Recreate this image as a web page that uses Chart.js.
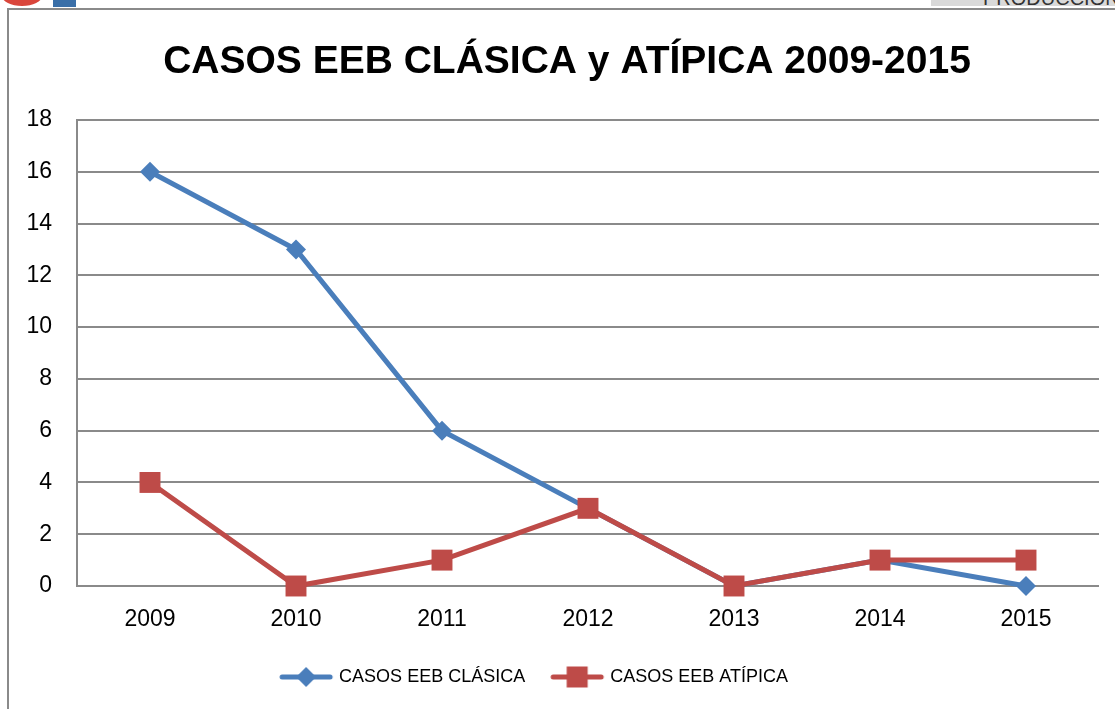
<!DOCTYPE html>
<html>
<head>
<meta charset="utf-8">
<script src="https://cdn.jsdelivr.net/npm/chart.js@4.4.1/dist/chart.umd.min.js"></script>
<style>
  body { margin: 0; background: #fff; }
  #wrap { position: relative; width: 1115px; height: 709px; overflow: hidden; }
  #frame { position: absolute; left: 7px; top: 8px; right: -4px; bottom: -4px;
           border-left: 2px solid #8a8a8a; border-top: 2px solid #8a8a8a; }
  #tag { position: absolute; left: 931px; top: 0; width: 184px; height: 6px;
         background: #d9d9d9; overflow: hidden; }
  #tag span { position: absolute; left: 52px; top: -13px; font: 20px "Liberation Sans", sans-serif;
              color: #333; white-space: nowrap; }
  #logo1 { position: absolute; left: 2px; top: -14px; width: 40px; height: 20px;
           border-radius: 50%; background: #d9463c; }
  #logo2 { position: absolute; left: 53px; top: 0; width: 23px; height: 7px; background: #3a6fa8; }
  canvas { position: absolute; left: 0; top: 0; }
</style>
</head>
<body>
<div id="wrap">
  <canvas id="chart" width="1115" height="709"></canvas>
  <div id="logo1"></div>
  <div id="logo2"></div>
  <div id="tag"><span>PRODUCCIÓN</span></div>
  <div id="frame"></div>
</div>
<script>
  const years = ['2009', '2010', '2011', '2012', '2013', '2014', '2015'];
  const casosClasica = [16, 13, 6, 3, 0, 1, 0];
  const casosAtipica = [4, 0, 1, 3, 0, 1, 1];
  const seriesNames = ['CASOS EEB CLÁSICA', 'CASOS EEB ATÍPICA'];

  const blue = '#4a7ebb';
  const red = '#be4b48';

  // little line + marker picture for the legend, like Excel does it
  function legendIcon(color, shape) {
    const c = document.createElement('canvas');
    c.width = 56;
    c.height = 24;
    const ctx = c.getContext('2d');
    ctx.strokeStyle = color;
    ctx.fillStyle = color;
    ctx.lineWidth = 5;
    ctx.lineCap = 'round';
    ctx.beginPath();
    ctx.moveTo(4, 12);
    ctx.lineTo(52, 12);
    ctx.stroke();
    ctx.beginPath();
    if (shape === 'diamond') {
      ctx.moveTo(28, 2);
      ctx.lineTo(38, 12);
      ctx.lineTo(28, 22);
      ctx.lineTo(18, 12);
      ctx.closePath();
    } else {
      ctx.rect(17.5, 1.5, 21, 21);
    }
    ctx.fill();
    return c;
  }

  const icons = [legendIcon(blue, 'diamond'), legendIcon(red, 'square')];

  // the legend in the original sits a bit left of the middle
  const legendShift = {
    id: 'legendShift',
    afterLayout: function(chart) {
      chart.legend.left -= 32;
      chart.legend.right -= 32;
    }
  };

  new Chart(document.getElementById('chart'), {
    type: 'line',
    data: {
      labels: years,
      datasets: [{
        label: seriesNames[0],
        data: casosClasica,
        borderColor: blue,
        backgroundColor: blue,
        borderWidth: 5,
        pointStyle: 'rectRot',
        pointRadius: 10,
        pointBorderWidth: 0,
        tension: 0,
        clip: false,
        order: 1
      }, {
        label: seriesNames[1],
        data: casosAtipica,
        borderColor: red,
        backgroundColor: red,
        borderWidth: 5,
        pointStyle: 'rect',
        pointRadius: 14.8,
        pointBorderWidth: 0,
        tension: 0,
        clip: false,
        order: 0
      }]
    },
    plugins: [legendShift],
    options: {
      responsive: false,
      animation: false,
      layout: { padding: { left: 19, right: 0, top: 0, bottom: 13 } },
      scales: {
        x: {
          offset: true,
          grid: { display: false, drawTicks: false },
          border: { display: false },
          ticks: { color: '#000', padding: 20, font: { family: 'Liberation Sans', size: 23 } },
          afterFit: function(scale) { scale.height = 54; }
        },
        y: {
          min: 0,
          max: 18,
          ticks: { stepSize: 2, color: '#000', padding: 25, font: { family: 'Liberation Sans', size: 23 } },
          grid: { color: '#8a8a8a', lineWidth: 2, drawTicks: false },
          border: { display: true, color: '#8a8a8a', width: 2 },
          afterFit: function(scale) { scale.width = 58; }
        },
        // empty strip on the right so the plot stops short of the edge
        yRight: {
          position: 'right',
          display: true,
          grid: { display: false, drawTicks: false },
          border: { display: false },
          ticks: { display: false },
          afterFit: function(scale) { scale.width = 16; }
        }
      },
      plugins: {
        title: {
          display: true,
          text: 'CASOS EEB CLÁSICA y ATÍPICA 2009-2015',
          color: '#000',
          font: { family: 'Liberation Sans', size: 39, weight: 'bold' },
          padding: { top: 38.6, bottom: 34.6 }
        },
        legend: {
          position: 'bottom',
          labels: {
            usePointStyle: true,
            pointStyleWidth: 48,
            padding: 28,
            color: '#000',
            font: { family: 'Liberation Sans', size: 18 },
            generateLabels: function(chart) {
              return chart.data.datasets.map(function(ds, i) {
                return {
                  text: ds.label,
                  pointStyle: icons[i],
                  fillStyle: ds.borderColor,
                  strokeStyle: ds.borderColor,
                  lineWidth: 0,
                  fontColor: '#000',
                  hidden: !chart.isDatasetVisible(i),
                  datasetIndex: i
                };
              });
            }
          }
        },
        tooltip: { enabled: false }
      }
    }
  });
</script>
</body>
</html>
